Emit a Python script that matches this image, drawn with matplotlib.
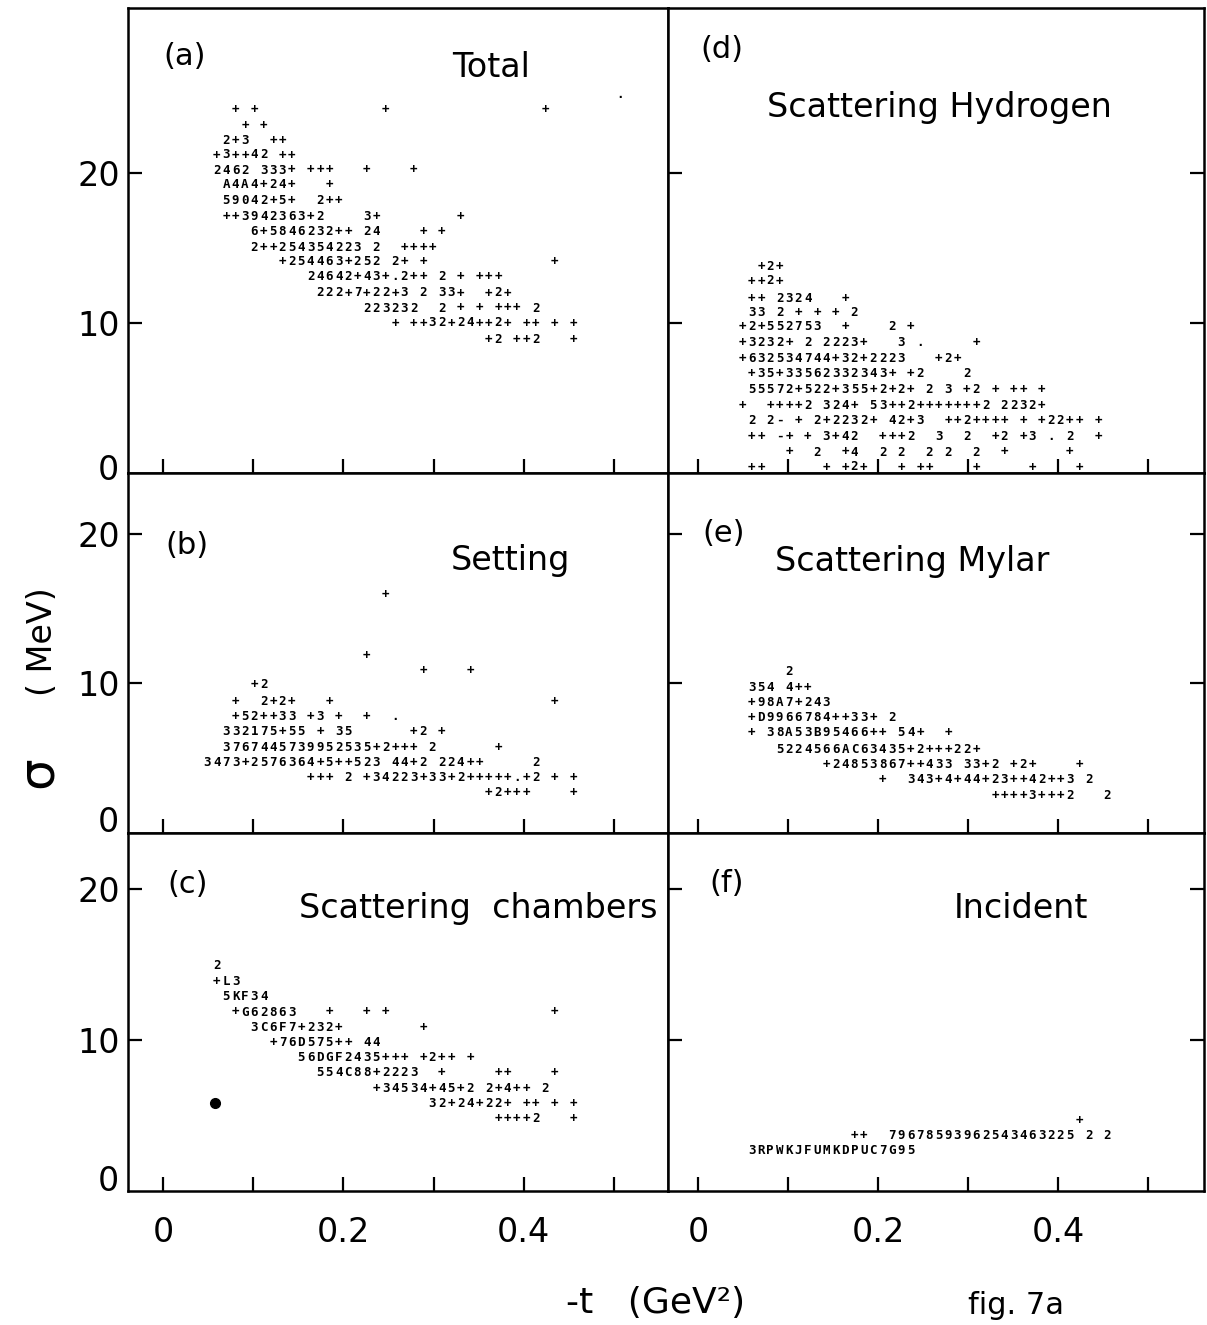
import matplotlib
matplotlib.use("Agg")
import matplotlib.pyplot as plt
from matplotlib.transforms import blended_transform_factory

W, H = 1207, 1325

# line-printer grid: column 0 sits at -t = T0, one column is DT wide
T0 = 0.0595
DT = 0.0104

# each row: (sigma in MeV, [(column, printed characters), ...])
ROWS_A = [
    (25.2, [(43, ".")]),
    (24.2, [(2, "+ +"), (18, "+"), (35, "+")]),
    (23.2, [(3, "+ +")]),
    (22.15, [(1, "2+3"), (6, "++")]),
    (21.2, [(0, "+3++42 ++")]),
    (20.2, [(0, "2462 333+ +++"), (16, "+"), (21, "+")]),
    (19.25, [(1, "A4A4+24+"), (12, "+")]),
    (18.15, [(1, "59042+5+"), (11, "2++")]),
    (17.1, [(1, "++3942363+2"), (16, "3+"), (26, "+")]),
    (16.1, [(4, "6+5846232++ 24"), (22, "+ +")]),
    (15.05, [(4, "2++254354223 2"), (20, "++++")]),
    (14.1, [(7, "+254463+252 2+"), (22, "+"), (36, "+")]),
    (13.1, [(10, "24642+43+.2++ 2"), (26, "+"), (28, "+++")]),
    (12.0, [(11, "222+7+22+3 2 33+"), (29, "+2+")]),
    (11.0, [(16, "223232"), (24, "2"), (26, "+"), (28, "+"), (30, "+++"), (34, "2")]),
    (10.0, [(19, "+"), (21, "++32+24++2+ ++"), (36, "+"), (38, "+")]),
    (8.9, [(29, "+2 ++2"), (38, "+")]),
]

ROWS_B = [
    (15.95, [(18, "+")]),
    (11.9, [(16, "+")]),
    (10.9, [(22, "+"), (27, "+")]),
    (9.9, [(4, "+2")]),
    (8.8, [(2, "+"), (5, "2+2+"), (12, "+"), (36, "+")]),
    (7.8, [(2, "+52++33"), (10, "+3"), (13, "+"), (16, "+"), (19, ".")]),
    (6.8, [(1, "332175+55"), (11, "+"), (13, "35"), (21, "+2"), (24, "+")]),
    (5.7, [(1, "3767445739952535+2+++ 2"), (30, "+")]),
    (4.7, [(-1, "3473+2576364+5++523"), (19, "44+2"), (24, "224++"), (34, "2")]),
    (3.7, [(10, "+++ 2 +34223+33+2+++++.+2"), (36, "+"), (38, "+")]),
    (2.7, [(29, "+2+++"), (38, "+")]),
]

ROWS_C = [
    (14.9, [(0, "2")]),
    (13.9, [(0, "+L3")]),
    (12.9, [(1, "5KF34")]),
    (11.85, [(2, "+G62863"), (12, "+"), (16, "+ +"), (36, "+")]),
    (10.85, [(4, "3C6F7+232+"), (22, "+")]),
    (9.85, [(6, "+76D575++ 44")]),
    (8.85, [(9, "56DGF2435+++"), (22, "+2++"), (27, "+")]),
    (7.85, [(11, "554C88+2223"), (24, "+"), (30, "++"), (36, "+")]),
    (6.8, [(17, "+34534+45+2 2+4++ 2")]),
    (5.8, [(23, "32+24+22+"), (33, "++"), (36, "+"), (38, "+")]),
    (4.8, [(30, "++++2"), (38, "+")]),
]
C_DOT_T = [0.057]
C_DOT_S = [5.8]

ROWS_D = [
    (13.75, [(1, "+2+")]),
    (12.8, [(0, "++2+")]),
    (11.65, [(0, "++ 2324"), (10, "+")]),
    (10.7, [(0, "33 2 + + + 2")]),
    (9.75, [(-1, "+2+552753"), (10, "+"), (15, "2"), (17, "+")]),
    (8.7, [(-1, "+3232+ 2 2223+"), (16, "3"), (18, "."), (24, "+")]),
    (7.65, [(-1, "+632534744+32+2223"), (20, "+2+")]),
    (6.65, [(0, "+35+33562332343+"), (17, "+2"), (23, "2")]),
    (5.55, [(0, "55572+522+355+2+2+"), (19, "2"), (21, "3"), (23, "+2"), (26, "+"),
            (28, "++"), (31, "+")]),
    (4.5, [(-1, "+"), (2, "++++2"), (8, "324+"), (13, "53++2+++++++2"), (27, "2232+")]),
    (3.5, [(0, "2 2-"), (5, "+"), (7, "2+2232+"), (15, "42+3"), (21, "++2++++"), (29, "+"),
           (31, "+22++"), (37, "+")]),
    (2.45, [(0, "++"), (3, "-+"), (6, "+"), (8, "3+42"), (14, "+++2"), (20, "3"), (23, "2"),
            (26, "+2"), (29, "+3"), (32, ". 2"), (37, "+")]),
    (1.4, [(4, "+"), (7, "2"), (10, "+4"), (14, "2 2"), (19, "2 2"), (24, "2"), (27, "+"),
           (34, "+")]),
    (0.4, [(0, "++"), (8, "+"), (10, "+2+"), (16, "+"), (18, "++"), (24, "+"), (30, "+"),
           (35, "+")]),
]

ROWS_E = [
    (10.8, [(4, "2")]),
    (9.75, [(0, "354 4++")]),
    (8.75, [(0, "+98A7+243")]),
    (7.7, [(0, "+D9966784++33+"), (15, "2")]),
    (6.7, [(0, "+ 38A53B95466++ 54+"), (21, "+")]),
    (5.6, [(3, "5224566AC63435+2+++22+")]),
    (4.6, [(8, "+24853867++433 33+2 +2+"), (35, "+")]),
    (3.6, [(14, "+"), (17, "343+4+44+23++42++3 2")]),
    (2.5, [(26, "++++3+++2"), (38, "2")]),
]

ROWS_F = [
    (4.7, [(35, "+")]),
    (3.7, [(11, "++"), (15, "79678593962543463225"), (36, "2 2")]),
    (2.7, [(0, "3RPWKJFUMKDPUC7G95")]),
]

XTICKS = [0, 0.1, 0.2, 0.3, 0.4, 0.5]
XTICKLABELS = ["0", "", "0.2", "", "0.4", ""]
YTICKS = [10, 20]
YTICKLABELS = ["10", "20"]

# (letter, title, rows, column, row, letter pos, title pos) positions in axes fraction
PANELS = [
    ("(a)", "Total", ROWS_A, 0, 0, (0.104, 0.895), (0.672, 0.871)),
    ("(b)", "Setting", ROWS_B, 0, 1, (0.109, 0.80), (0.709, 0.758)),
    ("(c)", "Scattering  chambers", ROWS_C, 0, 2, (0.111, 0.855), (0.648, 0.79)),
    ("(d)", "Scattering Hydrogen", ROWS_D, 1, 0, (0.101, 0.91), (0.506, 0.785)),
    ("(e)", "Scattering Mylar", ROWS_E, 1, 1, (0.104, 0.831), (0.455, 0.753)),
    ("(f)", "Incident", ROWS_F, 1, 2, (0.110, 0.858), (0.659, 0.79)),
]

COL_X = [(128, 668), (668, 1204)]
ROW_Y = [(8, 473), (473, 833), (833, 1191)]
YMAX = [31.0, 24.08, 23.7]
ZERO_Y = [0.2, 0.7, 0.6]
XLIM = [(-0.039, 0.560), (-0.0333, 0.5622)]

LABEL_FONT = dict(family="DejaVu Sans", fontweight="normal")


def printer_rows(ax, rows):
    for s, segs in rows:
        for col, text in segs:
            for i, ch in enumerate(text):
                if ch != " ":
                    ax.text(T0 + (col + i) * DT, s, ch, ha="center", va="center",
                            family="DejaVu Sans Mono", fontsize=9, fontweight="bold")


fig = plt.figure(figsize=(W / 100, H / 100), dpi=100)

for letter, title, rows, c, r, lpos, tpos in PANELS:
    x0, x1 = COL_X[c]
    y0, y1 = ROW_Y[r]
    ax = fig.add_axes([x0 / W, 1 - y1 / H, (x1 - x0) / W, (y1 - y0) / H])
    ax.set_xlim(*XLIM[c])
    ax.set_ylim(0, YMAX[r])
    for sp in ax.spines.values():
        sp.set_linewidth(1.8)

    ax.set_xticks(XTICKS)
    ax.set_yticks(YTICKS)
    if r == 2:
        ax.set_xticklabels(XTICKLABELS, fontsize=24, **LABEL_FONT)
    else:
        ax.set_xticklabels([])
    if c == 0:
        ax.set_yticklabels(YTICKLABELS, fontsize=24, **LABEL_FONT)
        tr = blended_transform_factory(ax.transAxes, ax.transData)
        ax.text(-0.016, ZERO_Y[r], "0", transform=tr, ha="right", va="center",
                fontsize=24, **LABEL_FONT)
    else:
        ax.set_yticklabels([])
    ax.tick_params(axis="both", direction="in", length=10, width=1.6,
                   right=(c == 1), top=False)
    ax.tick_params(axis="x", pad=18)
    ax.tick_params(axis="y", pad=6)

    printer_rows(ax, rows)
    if letter == "(c)":
        ax.plot(C_DOT_T, C_DOT_S, "o", color="black", ms=7)

    ax.text(*lpos, letter, transform=ax.transAxes, ha="center", va="center",
            fontsize=22, **LABEL_FONT)
    ax.text(*tpos, title, transform=ax.transAxes, ha="center", va="center",
            fontsize=24, **LABEL_FONT)

fig.text(38 / W, 1 - 772 / H, "σ", rotation=90, ha="center", va="center", fontsize=36,
         **LABEL_FONT)
fig.text(42 / W, 1 - 642 / H, "( MeV)", rotation=90, ha="center", va="center", fontsize=24,
         **LABEL_FONT)
fig.text(656 / W, 1 - 1303 / H, "-t   (GeV²)", ha="center", va="center", fontsize=26,
         **LABEL_FONT)
fig.text(1016 / W, 1 - 1305 / H, "fig. 7a", ha="center", va="center", fontsize=22,
         **LABEL_FONT)

fig.savefig("out.png", dpi=100)
